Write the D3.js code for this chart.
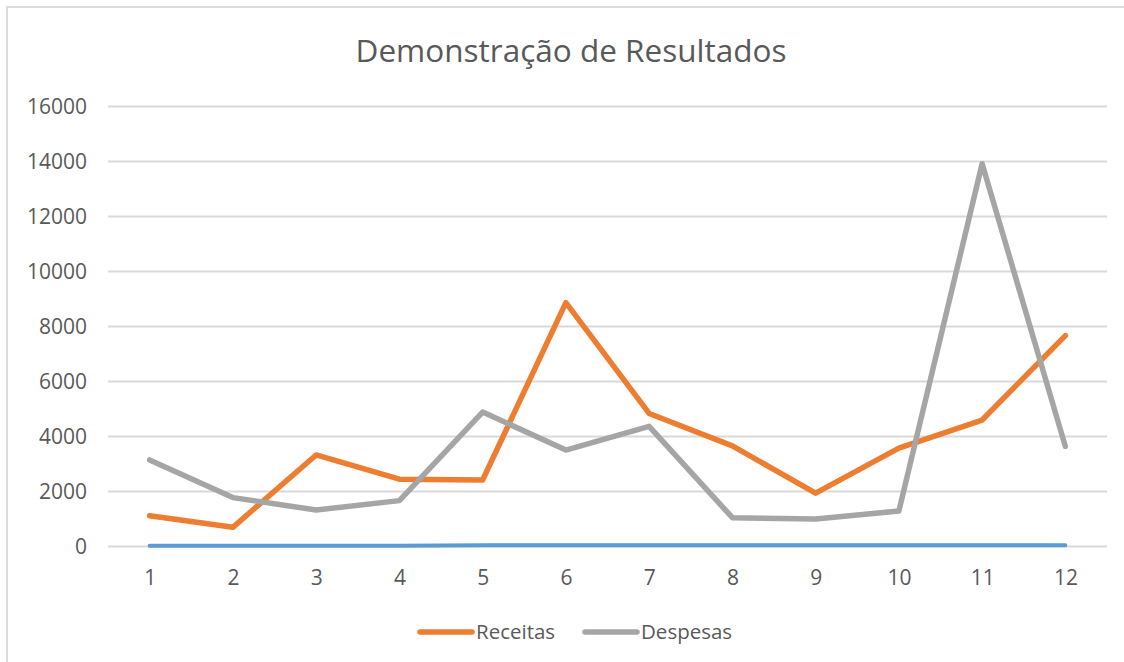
<!DOCTYPE html>
<html>
<head>
<meta charset="utf-8">
<script src="https://cdn.jsdelivr.net/npm/d3@7"></script>
<style>
  html, body { margin: 0; padding: 0; background: #fff; }
  svg { display: block; }
  text { font-family: "Open Sans", "Noto Sans", sans-serif; fill: #595959; }
</style>
</head>
<body>
<svg id="chart" width="1124" height="662"></svg>
<script>
const title = "Demonstração de Resultados";
const months = ["1","2","3","4","5","6","7","8","9","10","11","12"];
const receitas = [1100, 680, 3310, 2430, 2400, 8850, 4820, 3640, 1920, 3560, 4580, 7650];
const despesas = [3130, 1760, 1310, 1650, 4870, 3490, 4350, 1030, 980, 1270, 13900, 3620];
const serieBase = [10, 10, 10, 10, 30, 30, 30, 30, 30, 30, 30, 30];
const yTicks = [0, 2000, 4000, 6000, 8000, 10000, 12000, 14000, 16000];
const legendNames = ["Receitas", "Despesas"];

const svg = d3.select("#chart");
const W = 1124, H = 662;
svg.append("rect").attr("width", W).attr("height", H).attr("fill", "#fff");

// chart frame (only top and left visible)
svg.append("path")
  .attr("d", "M7,662 L7,7 L1124,7")
  .attr("fill", "none").attr("stroke", "#dcdcdc").attr("stroke-width", 2);

const x = d3.scalePoint().domain(months).range([108, 1107]).padding(0.5);
const y = d3.scaleLinear().domain([0, 16000]).range([546, 106]);

// title
svg.append("text")
  .attr("x", 571).attr("y", 62)
  .attr("text-anchor", "middle")
  .attr("font-size", 31.5)
  .text(title);

// gridlines
const yAxis = d3.axisLeft(y).tickValues(yTicks).tickFormat(d3.format("d"))
  .tickSize(-(1107 - 108)).tickPadding(20);
const gy = svg.append("g").attr("transform", "translate(108,0)").call(yAxis);
gy.select(".domain").remove();
gy.selectAll(".tick line").attr("stroke", "#d9d9d9").attr("stroke-width", 2);
gy.selectAll(".tick text")
  .attr("font-size", 21)
  .attr("fill", "#595959")
  .attr("font-family", "'Open Sans', sans-serif")
  .attr("dy", "0.36em")
  .attr("x", -21);

// x axis labels
const xAxis = d3.axisBottom(x).tickSize(0).tickPadding(0);
const gx = svg.append("g").attr("transform", "translate(0,546)").call(xAxis);
gx.select(".domain").remove();
gx.selectAll(".tick text")
  .attr("font-size", 21)
  .attr("fill", "#595959")
  .attr("font-family", "'Open Sans', sans-serif")
  .attr("dy", 0)
  .attr("y", 39);

const line = d3.line().x((d, i) => x(months[i])).y(d => y(d));

function drawSeries(vals, color, width) {
  svg.append("path")
    .datum(vals)
    .attr("d", line)
    .attr("fill", "none")
    .attr("stroke", color)
    .attr("stroke-width", width)
    .attr("stroke-linejoin", "round")
    .attr("stroke-linecap", "round");
}
drawSeries(serieBase, "#5B9BD5", 4);
drawSeries(receitas, "#ED7D31", 5.5);
drawSeries(despesas, "#A5A5A5", 5.5);

// legend
const legendColors = ["#ED7D31", "#A5A5A5"];
const legendX = [420, 585];
legendNames.forEach((name, i) => {
  const g = svg.append("g").attr("transform", `translate(${legendX[i]},632)`);
  g.append("line")
    .attr("x1", 0).attr("x2", 52).attr("y1", 0).attr("y2", 0)
    .attr("stroke", legendColors[i]).attr("stroke-width", 5.5)
    .attr("stroke-linecap", "round");
  g.append("text")
    .attr("x", 56).attr("y", 0).attr("dy", "0.36em")
    .attr("font-size", 20.5)
    .text(name);
});
</script>
</body>
</html>
